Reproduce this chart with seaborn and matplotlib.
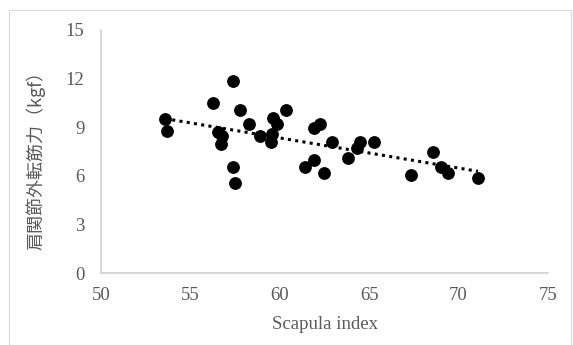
import matplotlib
matplotlib.use("Agg")
import matplotlib.pyplot as plt
import seaborn as sns
import pandas as pd
from matplotlib.patches import Rectangle

scapula_index = [53.58, 53.67, 56.24, 57.36, 57.77, 58.28, 56.55, 56.74, 56.70, 57.39,
                 57.49, 58.88, 59.63, 59.87, 59.59, 59.48, 60.34, 61.92, 62.23, 62.92,
                 61.92, 61.40, 62.46, 64.47, 64.32, 63.82, 65.27, 68.56, 68.99, 69.40,
                 67.36, 71.08]
abduction_strength = [9.51, 8.78, 10.48, 11.85, 10.06, 9.20, 8.72, 8.46, 7.94, 6.56,
                      5.57, 8.48, 9.55, 9.20, 8.58, 8.10, 10.06, 8.97, 9.20, 8.10,
                      6.98, 6.56, 6.19, 8.10, 7.70, 7.08, 8.10, 7.45, 6.56, 6.15,
                      6.05, 5.88]
x_ticks = [50, 55, 60, 65, 70, 75]
y_ticks = [0, 3, 6, 9, 12, 15]

df = pd.DataFrame({"x": scapula_index, "y": abduction_strength})

sns.set_style("white")
plt.rcParams["font.family"] = ["Liberation Serif", "Noto Sans CJK JP", "DejaVu Sans"]

fig = plt.figure(figsize=(5.73, 3.45), dpi=100)
ax = fig.add_axes([101/573, 1 - 273/345, 447/573, 243/345])

sns.scatterplot(data=df, x="x", y="y", ax=ax, color="black", s=85,
                edgecolor="black", linewidth=0, zorder=3)
sns.regplot(data=df, x="x", y="y", ax=ax, scatter=False, ci=None, truncate=True,
            color="black", line_kws={"linestyle": (0, (1, 1.4)), "linewidth": 2.2})

ax.set_xlim(50, 75)
ax.set_ylim(0, 15)
ax.set_xticks(x_ticks)
ax.set_yticks(y_ticks)
ax.tick_params(axis="both", length=0, labelsize=13.5, labelcolor="#595959")
ax.tick_params(axis="y", pad=12)
ax.tick_params(axis="x", pad=10)

for s in ["top", "right"]:
    ax.spines[s].set_visible(False)
for s in ["left", "bottom"]:
    ax.spines[s].set_color("#d0d0d0")
    ax.spines[s].set_linewidth(1.2)

ax.set_xlabel("Scapula index", fontsize=13.5, color="#595959")
ax.xaxis.set_label_coords(0.5, -0.175)
ax.set_ylabel("肩関節外転筋力（kgf）", fontsize=13, color="#595959",
              family=["Noto Sans CJK JP", "Liberation Serif"])
ax.yaxis.set_label_coords(-0.125, 0.48)

fig.patches.append(Rectangle((9/573, 0), 562/573, 1 - 10/345, transform=fig.transFigure,
                             fill=False, edgecolor="#d9d9d9", linewidth=0.8))

fig.savefig("out.png", dpi=100)
